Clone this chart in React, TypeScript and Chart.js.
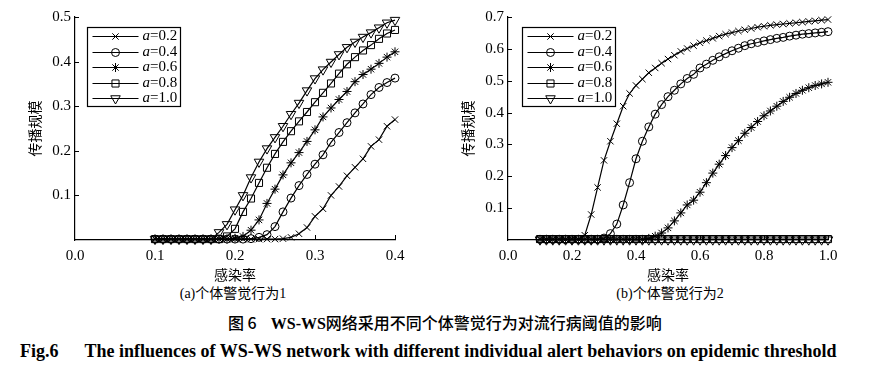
import React, { useEffect, useRef } from 'react';
import { Chart, registerables } from 'chart.js';
import { drawPoint } from 'chart.js/helpers';

Chart.register(...registerables);

// ---------- data ----------
const legendValues = ['0.2', '0.4', '0.6', '0.8', '1.0'];
const pointStyles = ['crossRot', 'circle', 'star', 'rect', 'triangle'];
const pointRadii = [4.5, 4, 4.5, 5, 5.5];
const pointRotations = [0, 0, 0, 0, 180];

const xTitle = '感染率';
const yTitle = '传播规模';
const captionA = '(a)个体警觉行为1';
const captionB = '(b)个体警觉行为2';
const figCaptionCn = ['图 6', 'WS-WS', '网络采用不同个体警觉行为对流行病阈值的影响'];
const figCaptionEn = ['Fig.6', 'The influences of WS-WS network with different individual alert behaviors on epidemic threshold'];

const xLeft = [0.10, 0.11, 0.12, 0.13, 0.14, 0.15, 0.16, 0.17, 0.18, 0.19, 0.20, 0.21, 0.22, 0.23, 0.24, 0.25,
  0.26, 0.27, 0.28, 0.29, 0.30, 0.31, 0.32, 0.33, 0.34, 0.35, 0.36, 0.37, 0.38, 0.39, 0.40];

const leftA02 = [0.002, 0.002, 0.002, 0.002, 0.002, 0.002, 0.002, 0.002, 0.002, 0.002, 0.002, 0.002, 0.002, 0.002, 0.002, 0.002,
  0.003, 0.006, 0.014, 0.028, 0.053, 0.070, 0.100, 0.120, 0.144, 0.163, 0.182, 0.210, 0.225, 0.255, 0.270];
const leftA04 = [0.002, 0.002, 0.002, 0.002, 0.002, 0.002, 0.002, 0.002, 0.002, 0.002, 0.002, 0.002,
  0.003, 0.006, 0.012, 0.030, 0.063, 0.094, 0.122, 0.147, 0.170, 0.191, 0.219, 0.241, 0.263, 0.285, 0.305, 0.326, 0.342, 0.353, 0.363];
const leftA06 = [0.002, 0.002, 0.002, 0.002, 0.002, 0.002, 0.002, 0.002, 0.002, 0.002,
  0.004, 0.008, 0.022, 0.045, 0.082, 0.114, 0.146, 0.173, 0.196, 0.221, 0.247, 0.276, 0.296, 0.315, 0.333, 0.355, 0.371, 0.383, 0.396, 0.410, 0.422];
const leftA08 = [0.002, 0.002, 0.002, 0.002, 0.002, 0.002, 0.002, 0.002, 0.002,
  0.008, 0.025, 0.063, 0.093, 0.128, 0.162, 0.193, 0.220, 0.244, 0.266, 0.287, 0.309, 0.330, 0.351, 0.373, 0.394, 0.410, 0.425, 0.437, 0.451, 0.463, 0.471];
const leftA10 = [0.002, 0.002, 0.002, 0.002, 0.002, 0.002, 0.002, 0.002,
  0.017, 0.035, 0.068, 0.100, 0.140, 0.175, 0.205, 0.230, 0.255, 0.282, 0.307, 0.335, 0.362, 0.382, 0.399, 0.416, 0.432, 0.444, 0.455, 0.465, 0.476, 0.487, 0.493];

const xRight = [0.10, 0.12, 0.14, 0.16, 0.18, 0.20, 0.22, 0.24, 0.26, 0.28, 0.30, 0.32, 0.34, 0.36, 0.38, 0.40,
  0.42, 0.44, 0.46, 0.48, 0.50, 0.52, 0.54, 0.56, 0.58, 0.60, 0.62, 0.64, 0.66, 0.68, 0.70, 0.72, 0.74, 0.76,
  0.78, 0.80, 0.82, 0.84, 0.86, 0.88, 0.90, 0.92, 0.94, 0.96, 0.98, 1.00];

const rightA02 = [0.002, 0.002, 0.002, 0.002, 0.002, 0.002, 0.002,
  0.015, 0.080, 0.165, 0.250, 0.310, 0.365, 0.420, 0.460, 0.485, 0.505, 0.525, 0.540, 0.555, 0.568, 0.580, 0.592,
  0.601, 0.610, 0.619, 0.626, 0.633, 0.640, 0.646, 0.651, 0.656, 0.660, 0.664, 0.668, 0.671, 0.674, 0.676, 0.678,
  0.680, 0.682, 0.684, 0.686, 0.688, 0.690, 0.692];
const rightA04 = [0.002, 0.002, 0.002, 0.002, 0.002, 0.002, 0.002, 0.002, 0.002, 0.002,
  0.006, 0.020, 0.050, 0.110, 0.180, 0.255, 0.310, 0.355, 0.395, 0.425, 0.450, 0.470, 0.490, 0.507, 0.520, 0.540,
  0.552, 0.564, 0.575, 0.585, 0.594, 0.602, 0.610, 0.616, 0.620, 0.625, 0.629, 0.633, 0.636, 0.640, 0.643, 0.646,
  0.648, 0.650, 0.652, 0.654];
const rightA06 = [0.002, 0.002, 0.002, 0.002, 0.002, 0.002, 0.002, 0.002, 0.002, 0.002, 0.002, 0.002, 0.002, 0.002,
  0.002, 0.002, 0.002,
  0.005, 0.012, 0.022, 0.038, 0.060, 0.085, 0.110, 0.125, 0.150, 0.180, 0.210, 0.238, 0.265, 0.290, 0.312, 0.335,
  0.353, 0.372, 0.390, 0.405, 0.420, 0.435, 0.448, 0.460, 0.470, 0.478, 0.485, 0.490, 0.495];
const rightA08 = [0.003, 0.003, 0.003, 0.003, 0.003, 0.003, 0.003, 0.003, 0.003, 0.003, 0.003, 0.003, 0.003, 0.003,
  0.003, 0.003, 0.003, 0.003, 0.003, 0.003, 0.003, 0.003, 0.003, 0.003, 0.003, 0.003, 0.003, 0.003, 0.003, 0.003,
  0.003, 0.003, 0.003, 0.003, 0.003, 0.003, 0.003, 0.003, 0.003, 0.003, 0.003, 0.003, 0.003, 0.003, 0.003, 0.003];
const rightA10 = [0.001, 0.001, 0.001, 0.001, 0.001, 0.001, 0.001, 0.001, 0.001, 0.001, 0.001, 0.001, 0.001, 0.001,
  0.001, 0.001, 0.001, 0.001, 0.001, 0.001, 0.001, 0.001, 0.001, 0.001, 0.001, 0.001, 0.001, 0.001, 0.001, 0.001,
  0.001, 0.001, 0.001, 0.001, 0.001, 0.001, 0.001, 0.001, 0.001, 0.001, 0.001, 0.001, 0.001, 0.001, 0.001, 0.001];

const leftMaxX = 0.4;
const leftStepX = 0.1;
const leftMaxY = 0.5;
const rightMaxX = 1.0;
const rightStepX = 0.2;
const rightMaxY = 0.7;
const stepY = 0.1;

// ---------- styling ----------
const SERIF = '"Liberation Serif", "Times New Roman", serif';
const CJK = '"Noto Sans CJK SC", sans-serif';

function makeDatasets(xs: number[], series: number[][]) {
  return series.map((ys, i) => ({
    label: 'a=' + legendValues[i],
    data: xs.map((x, j) => ({ x, y: ys[j] })),
    borderColor: '#000',
    borderWidth: 1.2,
    pointStyle: pointStyles[i],
    pointRadius: pointRadii[i],
    pointRotation: pointRotations[i],
    pointBorderColor: '#000',
    pointBackgroundColor: 'rgba(0,0,0,0)',
    pointBorderWidth: 1,
    tension: 0,
    fill: false,
    clip: false,
  }));
}

const boxLegend = {
  id: 'boxLegend',
  afterDraw(chart: any, _args: any, opts: any) {
    const { ctx, chartArea } = chart;
    const x0 = Math.round(chartArea.left + opts.offsetX) + 0.5;
    const y0 = Math.round(chartArea.top + opts.offsetY) + 0.5;
    const w = 93;
    const h = 79;
    ctx.save();
    ctx.fillStyle = '#fff';
    ctx.fillRect(x0, y0, w, h);
    ctx.strokeStyle = '#000';
    ctx.lineWidth = 1.2;
    ctx.strokeRect(x0, y0, w, h);
    chart.data.datasets.forEach((ds: any, i: number) => {
      const cy = Math.round(y0 + 8.5 + i * 15.5) + 0.5;
      ctx.strokeStyle = '#000';
      ctx.lineWidth = 1.2;
      ctx.beginPath();
      ctx.moveTo(x0 + 5, cy);
      ctx.lineTo(x0 + 51, cy);
      ctx.stroke();
      ctx.lineWidth = 1;
      ctx.fillStyle = 'rgba(0,0,0,0)';
      drawPoint(ctx, { pointStyle: ds.pointStyle, rotation: ds.pointRotation, radius: ds.pointRadius, borderWidth: 1 }, x0 + 28, cy);
      ctx.fillStyle = '#000';
      ctx.textBaseline = 'middle';
      ctx.textAlign = 'left';
      ctx.font = `italic 15px ${SERIF}`;
      ctx.fillText('a', x0 + 55, cy);
      const aw = ctx.measureText('a').width;
      ctx.font = `15px ${SERIF}`;
      ctx.fillText('=' + legendValues[i], x0 + 55 + aw, cy);
    });
    ctx.restore();
  },
};

const innerTicks = {
  id: 'innerTicks',
  afterDraw(chart: any) {
    const { ctx, chartArea } = chart;
    const xs = chart.scales.x;
    const ys = chart.scales.y;
    ctx.save();
    ctx.strokeStyle = '#000';
    ctx.lineWidth = 1;
    ctx.beginPath();
    xs.ticks.forEach((t: any) => {
      if (Math.abs(t.value) < 1e-9) return;
      const px = Math.round(xs.getPixelForValue(t.value)) + 0.5;
      ctx.moveTo(px, chartArea.bottom);
      ctx.lineTo(px, chartArea.bottom - 5);
    });
    ys.ticks.forEach((t: any) => {
      if (Math.abs(t.value) < 1e-9) return;
      const py = Math.round(ys.getPixelForValue(t.value)) + 0.5;
      ctx.moveTo(chartArea.left, py);
      ctx.lineTo(chartArea.left + 4, py);
    });
    ctx.stroke();
    ctx.restore();
  },
};

function makeConfig(opts: {
  xs: number[]; series: number[][]; maxX: number; stepX: number; maxY: number;
  yWidth: number; xHeight: number; padRight: number; yTitlePad: number; legendX: number;
}) {
  return {
    type: 'line',
    data: { datasets: makeDatasets(opts.xs, opts.series) },
    options: {
      animation: false,
      responsive: false,
      maintainAspectRatio: false,
      devicePixelRatio: 1,
      layout: { padding: { left: 0, top: 17, right: opts.padRight, bottom: 0 } },
      plugins: {
        legend: { display: false },
        tooltip: { enabled: false },
        boxLegend: { offsetX: opts.legendX, offsetY: 10 },
      },
      scales: {
        x: {
          type: 'linear',
          min: 0,
          max: opts.maxX,
          grid: { display: false, drawTicks: false },
          border: { display: true, color: '#000', width: 1.2 },
          ticks: {
            stepSize: opts.stepX,
            color: '#000',
            padding: 7,
            maxRotation: 0,
            autoSkip: false,
            font: { family: SERIF, size: 15 },
            callback: (v: any) => Number(v).toFixed(1),
          },
          title: {
            display: true,
            text: xTitle,
            color: '#000',
            font: { family: CJK, size: 14 },
            padding: { top: 0, bottom: 2 },
          },
          afterFit: (s: any) => { s.height = opts.xHeight; },
        },
        y: {
          type: 'linear',
          min: 0,
          max: opts.maxY,
          grid: { display: false, drawTicks: false },
          border: { display: true, color: '#000', width: 1.2 },
          ticks: {
            stepSize: stepY,
            color: '#000',
            padding: 4,
            font: { family: SERIF, size: 15 },
            callback: (v: any) => (Math.abs(Number(v)) < 1e-9 ? '' : Number(v).toFixed(1)),
          },
          title: {
            display: true,
            text: yTitle,
            color: '#000',
            font: { family: CJK, size: 14 },
            padding: { top: opts.yTitlePad, bottom: 0 },
          },
          afterFit: (s: any) => { s.width = opts.yWidth; },
        },
      },
    },
    plugins: [innerTicks, boxLegend],
  } as any;
}

function ChartPanel(props: { left: number; width: number; height: number; config: () => any }) {
  const ref = useRef<HTMLCanvasElement>(null);
  useEffect(() => {
    const chart = new Chart(ref.current as HTMLCanvasElement, props.config());
    return () => chart.destroy();
  }, []);
  return (
    <canvas
      ref={ref}
      width={props.width}
      height={props.height}
      style={{ position: 'absolute', left: props.left, top: 0, width: props.width, height: props.height }}
    />
  );
}

const captionStyle: React.CSSProperties = {
  position: 'absolute',
  fontSize: 14,
  lineHeight: '16px',
  fontFamily: `${SERIF.split(',')[0]}, ${CJK}`,
  color: '#000',
  whiteSpace: 'nowrap',
  textAlign: 'center',
};

export default function App() {
  return (
    <div style={{ position: 'absolute', left: 0, top: 0, width: 882, height: 376, background: '#fff', overflow: 'hidden' }}>
      <ChartPanel
        left={0}
        width={440}
        height={285}
        config={() =>
          makeConfig({
            xs: xLeft,
            series: [leftA02, leftA04, leftA06, leftA08, leftA10],
            maxX: leftMaxX, stepX: leftStepX, maxY: leftMaxY,
            yWidth: 75, xHeight: 45, padRight: 45, yTitlePad: 26, legendX: 12,
          })
        }
      />
      <ChartPanel
        left={440}
        width={442}
        height={285}
        config={() =>
          makeConfig({
            xs: xRight,
            series: [rightA02, rightA04, rightA06, rightA08, rightA10],
            maxX: rightMaxX, stepX: rightStepX, maxY: rightMaxY,
            yWidth: 68, xHeight: 45, padRight: 54, yTitlePad: 19, legendX: 14,
          })
        }
      />
      <div style={{ ...captionStyle, left: 133, width: 200, top: 286 }}>{captionA}</div>
      <div style={{ ...captionStyle, left: 570, width: 200, top: 286 }}>{captionB}</div>
      <div style={{ position: 'absolute', left: 228, top: 312, fontSize: 16, lineHeight: '20px', fontFamily: CJK, fontWeight: 500, color: '#000', whiteSpace: 'nowrap' }}>
        <span>{figCaptionCn[0]}</span>
        <span style={{ display: 'inline-block', width: 14 }} />
        <span style={{ fontFamily: SERIF, fontWeight: 'bold' }}>{figCaptionCn[1]}</span>
        <span>{figCaptionCn[2]}</span>
      </div>
      <div style={{ position: 'absolute', left: 20, top: 340, fontSize: 18, lineHeight: '22px', fontFamily: SERIF, fontWeight: 'bold', color: '#000', whiteSpace: 'nowrap' }}>
        <span>{figCaptionEn[0]}</span>
        <span style={{ display: 'inline-block', width: 26 }} />
        <span>{figCaptionEn[1]}</span>
      </div>
    </div>
  );
}
